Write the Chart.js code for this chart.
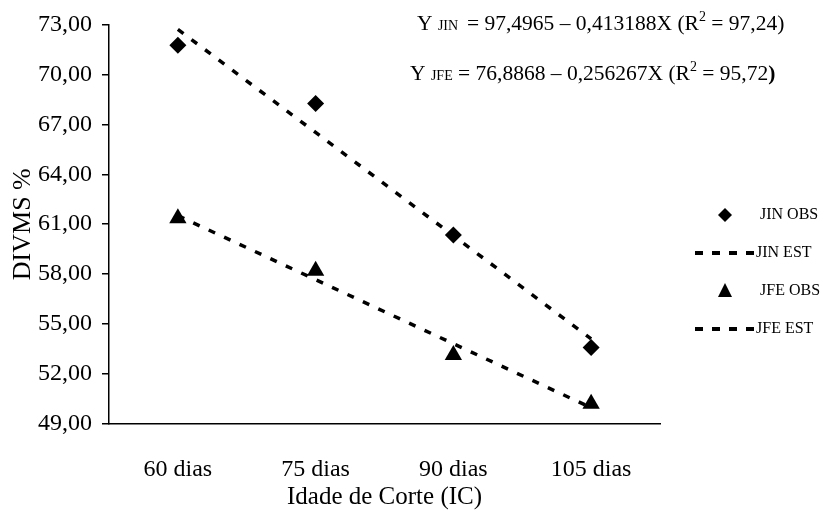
<!DOCTYPE html>
<html>
<head>
<meta charset="utf-8">
<script src="https://cdn.jsdelivr.net/npm/chart.js@4.4.1/dist/chart.umd.min.js"></script>
<style>
  html, body { margin: 0; padding: 0; background: #fff; }
  #wrap { width: 826px; height: 517px; }
</style>
</head>
<body>
<div id="wrap"><canvas id="chartdiv" width="826" height="517"></canvas></div>
<script>
var dias = ['60 dias', '75 dias', '90 dias', '105 dias'];
var jinObs = [71.75, 68.25, 60.35, 53.60];
var jinEst = [72.70, 66.51, 60.31, 54.11];
var jfeObs = [61.35, 58.20, 53.15, 50.22];
var jfeEst = [61.51, 57.67, 53.82, 49.98];
var labels = ['JIN OBS', 'JIN EST', 'JFE OBS', 'JFE EST'];

// equacoes de regressao (texto)
var eqNames = ['JIN', 'JFE'];
var eqIntercept = ['97,4965', '76,8868'];
var eqSlope = ['0,413188', '0,256267'];
var eqR2 = ['97,24', '95,72'];

var serif = '"Liberation Serif", "Times New Roman", serif';

var equationPlugin = {
    id: 'equations',
    afterDraw: function(chart) {
        var ctx = chart.ctx;
        var startX = [417, 410];
        var baseY = [30, 80];
        var big = 21.5, small = 14;
        ctx.save();
        ctx.fillStyle = '#000';
        ctx.textBaseline = 'alphabetic';
        ctx.textAlign = 'left';
        for (var i = 0; i < eqNames.length; i++) {
            var x = startX[i];
            var y = baseY[i];
            var parts = [
                ['Y ', big, 0, ''],
                [eqNames[i], small, 0, ''],
                [i == 0 ? ' ' : '', small, 0, ''],
                [' = ' + eqIntercept[i] + ' \u2013 ' + eqSlope[i] + 'X (R', big, 0, ''],
                ['2', small, -9, ''],
                [' = ' + eqR2[i], big, 0, ''],
                [')', big, 0, i == 1 ? 'bold ' : '']
            ];
            for (var p = 0; p < parts.length; p++) {
                ctx.font = parts[p][3] + parts[p][1] + 'px ' + serif;
                ctx.fillText(parts[p][0], x, y + parts[p][2]);
                x += ctx.measureText(parts[p][0]).width;
            }
        }
        ctx.restore();
    }
};

var legendPlugin = {
    id: 'sideLegend',
    afterDraw: function(chart) {
        var ctx = chart.ctx;
        var rows = [215, 253, 291, 329];
        ctx.save();
        ctx.fillStyle = '#000';
        ctx.strokeStyle = '#000';
        ctx.font = '16px ' + serif;
        ctx.textBaseline = 'middle';
        ctx.textAlign = 'left';
        chart.data.datasets.forEach(function(ds, i) {
            var y = rows[i];
            if (ds.showLine === false) {
                var cx = 725;
                ctx.beginPath();
                if (ds.pointStyle == 'rectRot') {
                    ctx.moveTo(cx, y - 7);
                    ctx.lineTo(cx + 7, y);
                    ctx.lineTo(cx, y + 7);
                    ctx.lineTo(cx - 7, y);
                } else {
                    ctx.moveTo(cx, y - 8);
                    ctx.lineTo(cx + 7, y + 6);
                    ctx.lineTo(cx - 7, y + 6);
                }
                ctx.closePath();
                ctx.fill();
                ctx.fillText(ds.label, 760, y);
            } else {
                ctx.lineWidth = 4;
                ctx.setLineDash([8, 9]);
                ctx.beginPath();
                ctx.moveTo(695, y);
                ctx.lineTo(755, y);
                ctx.stroke();
                ctx.setLineDash([]);
                ctx.fillText(ds.label, 756, y);
            }
        });
        ctx.restore();
    }
};

var ctxgen = document.getElementById('chartdiv').getContext('2d');
var chartgen = new Chart(ctxgen, {
    type: 'line',
    data: {
        labels: dias,
        datasets: [
            {
                label: labels[0],
                data: jinObs,
                showLine: false,
                pointStyle: 'rectRot',
                pointRadius: 8.5,
                pointHoverRadius: 8.5,
                pointBackgroundColor: '#000',
                pointBorderColor: '#000',
                pointBorderWidth: 0
            },
            {
                label: labels[1],
                data: jinEst,
                borderColor: '#000',
                borderWidth: 3.5,
                borderDash: [7, 10],
                pointRadius: 0,
                fill: false,
                tension: 0
            },
            {
                label: labels[2],
                data: jfeObs,
                showLine: false,
                pointStyle: 'triangle',
                pointRadius: 10,
                pointHoverRadius: 10,
                pointBackgroundColor: '#000',
                pointBorderColor: '#000',
                pointBorderWidth: 0
            },
            {
                label: labels[3],
                data: jfeEst,
                borderColor: '#000',
                borderWidth: 3.5,
                borderDash: [7, 10],
                pointRadius: 0,
                fill: false,
                tension: 0
            }
        ]
    },
    options: {
        responsive: false,
        animation: false,
        layout: {
            padding: { left: 0, top: 23, right: 166, bottom: 0 }
        },
        plugins: {
            legend: { display: false },
            tooltip: { enabled: false }
        },
        scales: {
            x: {
                offset: true,
                grid: { display: false },
                border: { display: true, color: '#000', width: 1.5 },
                ticks: {
                    color: '#000',
                    padding: 23,
                    maxRotation: 0,
                    font: { family: serif, size: 24 }
                },
                title: {
                    display: true,
                    text: 'Idade de Corte (IC)',
                    color: '#000',
                    padding: { top: 0, bottom: 5 },
                    font: { family: serif, size: 25 }
                },
                afterFit: function(scale) { scale.height = 93; }
            },
            y: {
                min: 49,
                max: 73,
                grid: {
                    drawOnChartArea: false,
                    drawTicks: true,
                    tickLength: 7,
                    color: '#000',
                    lineWidth: 1.5
                },
                border: { display: true, color: '#000', width: 1.5 },
                ticks: {
                    stepSize: 3,
                    color: '#000',
                    padding: 10,
                    font: { family: serif, size: 24 },
                    callback: function(v) { return v.toFixed(2).replace('.', ','); }
                },
                title: {
                    display: true,
                    text: 'DIVMS %',
                    color: '#000',
                    padding: { top: 8, bottom: 0 },
                    font: { family: serif, size: 26 }
                },
                afterFit: function(scale) { scale.width = 109; }
            }
        }
    },
    plugins: [equationPlugin, legendPlugin]
});
</script>
</body>
</html>
